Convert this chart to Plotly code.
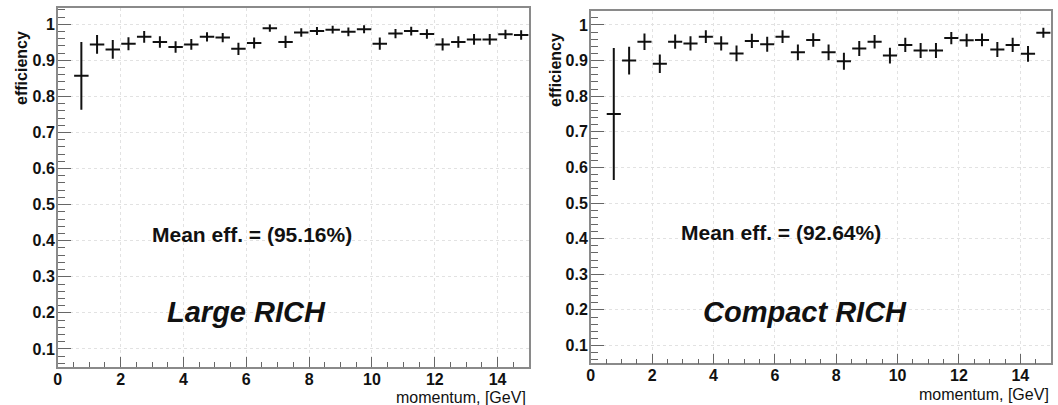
import plotly.graph_objects as go

# ---- data ----
momentum = [0.75 + 0.5 * i for i in range(29)]

large_eff = [0.857, 0.944, 0.930, 0.946, 0.965, 0.951, 0.937, 0.944, 0.965, 0.963,
             0.932, 0.948, 0.989, 0.951, 0.977, 0.981, 0.985, 0.979, 0.986, 0.946,
             0.974, 0.981, 0.973, 0.944, 0.951, 0.958, 0.958, 0.972, 0.970]
large_err = [0.094, 0.026, 0.026, 0.018, 0.016, 0.016, 0.016, 0.015, 0.013, 0.013,
             0.017, 0.015, 0.010, 0.017, 0.012, 0.011, 0.011, 0.012, 0.011, 0.017,
             0.013, 0.012, 0.013, 0.017, 0.016, 0.015, 0.015, 0.013, 0.013]

compact_eff = [0.750, 0.900, 0.953, 0.891, 0.953, 0.948, 0.967, 0.948, 0.920, 0.955,
               0.946, 0.967, 0.923, 0.958, 0.923, 0.898, 0.934, 0.953, 0.914, 0.944,
               0.928, 0.928, 0.963, 0.957, 0.958, 0.931, 0.944, 0.919, 0.978]
compact_err = [0.185, 0.039, 0.023, 0.026, 0.020, 0.020, 0.018, 0.020, 0.022, 0.020,
               0.021, 0.018, 0.022, 0.019, 0.022, 0.024, 0.021, 0.019, 0.022, 0.020,
               0.021, 0.021, 0.017, 0.018, 0.018, 0.021, 0.020, 0.022, 0.014]

bin_half = 0.23
mean_texts = ["Mean eff. = (95.16%)", "Mean eff. = (92.64%)"]
label_texts = ["Large RICH", "Compact RICH"]
x_title = "momentum, [GeV]"
y_title = "efficiency"

W, H = 1058, 405
FONT = "Liberation Sans, Arial, sans-serif"

fig = go.Figure()

panels = [
    dict(eff=large_eff, err=large_err, x=(54, 527), y=(8, 367), yr=[0.05, 1.045],
         xa="x", ya="y", mean_xy=(6.17, 0.418), lab_xy=(6.02, 0.203),
         ytitle_x=18, ytitle_y=68, xtitle_x=526, xtitle_y=397),
    dict(eff=compact_eff, err=compact_err, x=(589, 1051), y=(10.7, 363.3), yr=[0.05, 1.04],
         xa="x2", ya="y2", mean_xy=(6.2, 0.418), lab_xy=(6.98, 0.194),
         ytitle_x=553, ytitle_y=70, xtitle_x=1051, xtitle_y=394),
]

for i, p in enumerate(panels):
    fig.add_trace(go.Scatter(
        x=momentum, y=p["eff"], mode="markers",
        marker=dict(size=1, color="black"),
        error_x=dict(type="constant", value=bin_half, width=0, thickness=2, color="#111"),
        error_y=dict(type="data", array=p["err"], width=0, thickness=2, color="#111"),
        xaxis=p["xa"], yaxis=p["ya"], showlegend=False, hoverinfo="x+y"))

    sfx = "" if i == 0 else "2"
    xd = [p["x"][0] / W, p["x"][1] / W]
    yd = [(H - p["y"][1]) / H, (H - p["y"][0]) / H]
    axis_common = dict(
        showline=True, linecolor="#8a8a8a", linewidth=1.5, mirror=True,
        ticks="inside", tickcolor="#666", tickwidth=1,
        showgrid=True, gridcolor="#e2e2e2", griddash="dot", gridwidth=1,
        zeroline=False,
        tickfont=dict(family=FONT, size=16, color="#111", weight="bold"),
    )
    fig.layout["xaxis" + sfx] = dict(
        domain=xd, range=[0, 15], dtick=2, tick0=0, ticklen=10, ticklabelstandoff=-3,
        minor=dict(dtick=0.5, ticklen=5, ticks="inside", tickcolor="#666", showgrid=False),
        anchor="y" + sfx, **axis_common)
    fig.layout["yaxis" + sfx] = dict(
        domain=yd, range=p["yr"], dtick=0.1, tick0=0, ticklen=13, ticklabelstandoff=-2,
        minor=dict(dtick=0.02, ticklen=7, ticks="inside", tickcolor="#666", showgrid=False),
        anchor="x" + sfx, **axis_common)

    fig.add_annotation(x=p["mean_xy"][0], y=p["mean_xy"][1], xref=p["xa"], yref=p["ya"],
                       text=mean_texts[i], showarrow=False, xanchor="center", yanchor="middle",
                       font=dict(family=FONT, size=21, color="#111", weight="bold"))
    fig.add_annotation(x=p["lab_xy"][0], y=p["lab_xy"][1], xref=p["xa"], yref=p["ya"],
                       text="<b><i>" + label_texts[i] + "</i></b>", showarrow=False,
                       xanchor="center", yanchor="middle",
                       font=dict(family=FONT, size=29, color="#111"))
    fig.add_annotation(x=p["ytitle_x"] / W, y=(H - p["ytitle_y"]) / H, xref="paper", yref="paper",
                       text=y_title, textangle=-90, showarrow=False,
                       xanchor="center", yanchor="middle",
                       font=dict(family=FONT, size=16, color="#111", weight="bold"))
    fig.add_annotation(x=p["xtitle_x"] / W, y=(H - p["xtitle_y"]) / H, xref="paper", yref="paper",
                       text=x_title, showarrow=False, xanchor="right", yanchor="middle",
                       font=dict(family=FONT, size=16, color="#111"))

fig.update_layout(width=W, height=H, autosize=False,
                  margin=dict(l=0, r=0, t=0, b=0),
                  paper_bgcolor="white", plot_bgcolor="white")

fig.write_html("out.html",
               config={"displayModeBar": False},
               post_script="document.body.style.margin='0px';"
                           "document.body.style.overflow='hidden';"
                           "document.documentElement.style.overflow='hidden';")
